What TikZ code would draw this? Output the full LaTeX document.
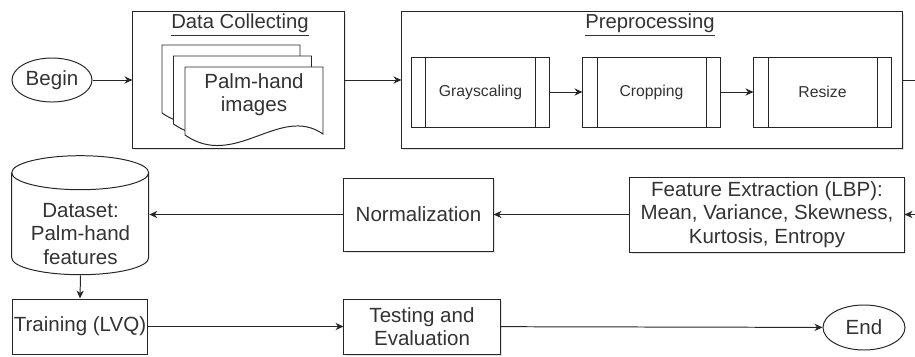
\documentclass[tikz,border=0pt]{standalone}
\usepackage{fontspec}
\setmainfont{Liberation Sans}
\usetikzlibrary{shapes.geometric,arrows.meta,shadows}
\tikzset{
  line/.style={line width=0.7pt, draw=black!85},
  box/.style={line, fill=white, text=black!80, align=center, inner sep=1pt,
    font=\fontsize{14.6}{16.6}\selectfont},
  shadowbox/.style={box, drop shadow={shadow xshift=1.1pt, shadow yshift=-1.1pt, opacity=0.18, fill=black!60}},
  proc/.style={box, font=\fontsize{11.2}{13}\selectfont, minimum width=3.425cm, minimum height=1.75cm,
    path picture={
      \draw[line] ([xshift=0.35cm]path picture bounding box.north west) -- ([xshift=0.35cm]path picture bounding box.south west);
      \draw[line] ([xshift=-0.35cm]path picture bounding box.north east) -- ([xshift=-0.35cm]path picture bounding box.south east);
    }},
  term/.style={box, ellipse, inner sep=0pt},
  flow/.style={line, -{Stealth[length=2mm,width=1.8mm]}},
  title/.style={text=black!80, font=\fontsize{14.4}{16}\selectfont},
}
\begin{document}
\begin{tikzpicture}[x=0.025cm, y=-0.025cm]
  \clip (0,0) rectangle (915,356);
  % top row
  \node[term, minimum width=2cm, minimum height=1.1cm] (begin) at (52,80) {Begin};
  \node[shadowbox, minimum width=5.275cm, minimum height=3.4cm] (collect) at (238.5,80) {};
  \node[title] (collecttitle) at (240,25) {\underline{Data Collecting}};
  \foreach \dx/\dy in {-23/-22, -11.5/-11, 0/0}
    \draw[line, fill=white, shift={(\dx,\dy)}] (185,67) -- (323,67) -- (323,134)
      .. controls (280,104) and (235,170) .. (185,135) -- cycle;
  \node[box, draw=none, fill=none] (images) at (254,95) {Palm-hand\\images};
  \node[shadowbox, minimum width=12.5cm, minimum height=3.4cm] (preproc) at (652,80) {};
  \node[title] (preproctitle) at (650,25) {\underline{Preprocessing}};
  \node[proc] (gray) at (480.5,92) {Grayscaling};
  \node[proc] (crop) at (651.5,92) {Cropping};
  \node[proc] (resize) at (822.5,92) {Resize};
  % middle row
  \node[shadowbox, minimum width=6.85cm, minimum height=1.875cm] (feat) at (767,214.5)
    {Feature Extraction (LBP):\\Mean, Variance, Skewness,\\Kurtosis, Entropy};
  \node[shadowbox, minimum width=3.725cm, minimum height=1.825cm] (norm) at (418.5,214.5) {Normalization};
  \node[minimum width=3.425cm, minimum height=2.975cm, inner sep=0pt] (dataset) at (80.5,215.5) {};
  \draw[line, fill=white] (dataset.north west) ++(0,17) -- ++(0,85)
    arc[start angle=180, end angle=0, x radius=68.5, y radius=17] -- ++(0,-85)
    arc[start angle=0, end angle=-180, x radius=68.5, y radius=17]
    arc[start angle=180, end angle=0, x radius=68.5, y radius=17];
  \node[box, draw=none, fill=none] (datatext) at (80.5,234) {Dataset:\\Palm-hand\\features};
  % bottom row
  \node[box, inner xsep=0pt, minimum width=3.35cm, minimum height=1.375cm] (train) at (80,326.5) {Training (LVQ)};
  \node[shadowbox, minimum width=3.9cm, minimum height=1.375cm] (test) at (422,326.5) {Testing and\\Evaluation};
  \node[term, minimum width=2.05cm, minimum height=1.125cm] (end) at (864,327.5) {End};
  % connectors
  \begin{scope}[flow]
    \draw (begin) to (collect);
    \draw (collect) to (preproc);
    \draw (gray) to (crop);
    \draw (crop) to (resize);
    \draw (preproc.east) -- ++(40,0) |- (feat.east);
    \draw (feat) to (norm);
    \draw (norm.west) to (norm.west -| dataset.east);
    \draw (dataset.south) to (train.north);
    \draw (train) to (test);
    \draw (test) to (end);
  \end{scope}
\end{tikzpicture}
\end{document}
